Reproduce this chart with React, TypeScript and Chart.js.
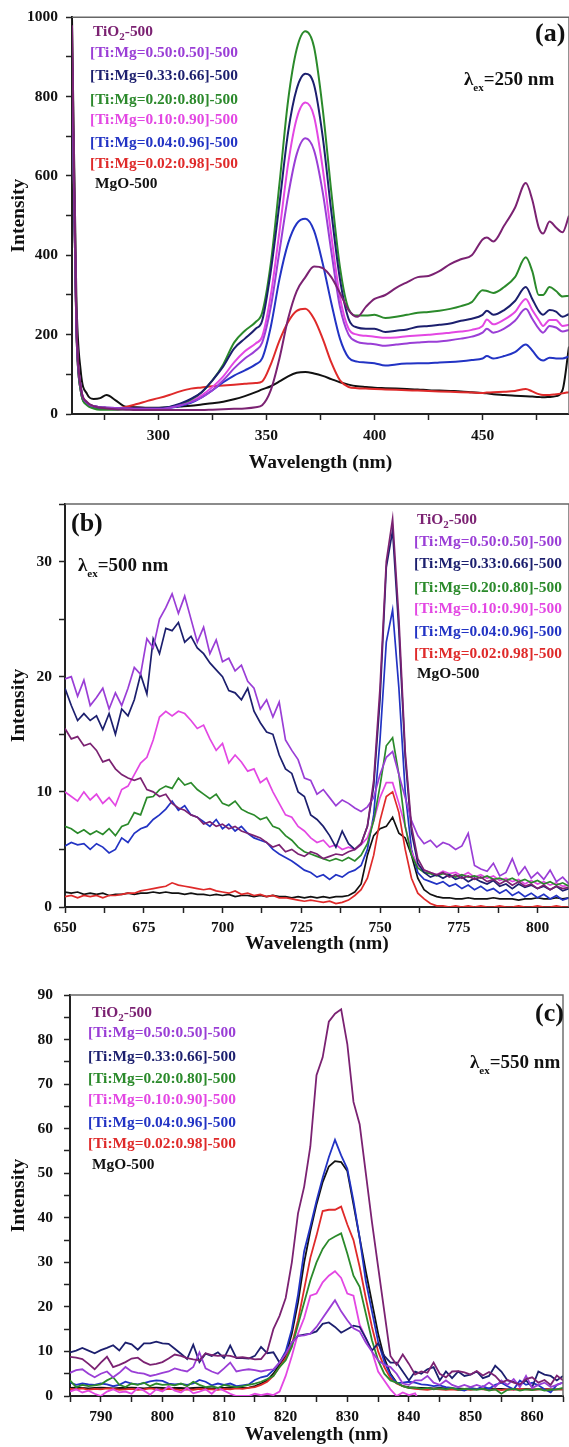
import React, { useEffect, useRef } from "react";
import { Chart, registerables } from "chart.js";

Chart.register(...registerables);

const FONT = "'Liberation Serif', 'Times New Roman', Times, serif";
Chart.defaults.font.family = FONT;

const SERIES_COLORS = ["#7b2272", "#9a3ed6", "#1c1f6e", "#2b8a2b", "#e347e3", "#2233c4", "#df2a2a", "#111111"];

// ---------- Panel (a): λex = 250 nm ----------
const wlA = [260,262,264,267,270,273,276,280,285,290,295,300,305,310,315,320,325,330,335,340,345,348,352,356,360,364,368,372,376,380,384,388,392,396,400,405,410,415,420,425,430,435,440,445,450,452,455,460,465,470,473,476,478,481,484,487,490];
const aTiO2 = [980,250,70,30,20,16,14,12,11,10,10,10,10,10,10,10,11,12,13,14,17,22,60,140,240,310,345,372,368,345,305,262,245,270,290,300,318,332,345,348,360,378,390,400,440,445,435,475,520,582,540,470,455,485,470,458,500];
const a050 = [900,230,70,28,20,17,16,15,14,13,13,13,16,22,30,42,60,85,115,140,160,180,270,410,550,655,695,665,560,410,270,200,182,178,176,172,175,178,180,182,183,186,190,195,205,215,205,215,235,265,240,215,205,222,218,208,212];
const a033 = [900,230,70,28,20,17,16,15,14,14,14,15,18,26,38,55,85,120,165,190,215,235,360,530,710,820,858,830,700,510,340,240,218,215,215,207,210,213,220,222,225,228,235,240,250,260,250,262,285,320,290,260,250,262,258,245,252];
const a020 = [880,220,60,22,14,11,11,11,12,12,13,14,17,24,36,55,85,125,180,210,232,255,380,580,790,920,965,925,770,560,370,265,248,248,250,242,245,250,255,257,260,265,272,282,312,310,305,320,345,395,360,300,300,320,310,296,298];
const a010 = [900,230,70,28,20,17,16,15,14,13,13,13,16,22,32,47,68,95,130,158,178,195,300,460,630,745,785,750,620,450,295,215,200,197,195,192,193,196,198,200,202,205,208,212,222,238,226,238,257,290,262,237,222,237,237,222,225];
const a004 = [880,220,60,24,16,14,13,13,13,12,12,12,15,20,28,42,60,80,97,110,125,140,220,340,430,480,492,462,380,280,190,142,132,130,128,122,125,127,128,128,130,131,133,136,140,146,140,146,156,175,160,140,135,142,140,140,145];
const a002 = [880,220,60,25,18,16,15,15,18,25,33,40,48,57,64,67,70,72,74,76,78,82,125,185,232,260,265,240,190,130,85,68,65,64,63,62,61,60,59,58,57,56,55,54,53,54,55,56,58,63,57,50,48,48,50,52,55];
const aMgO = [1000,300,110,50,38,40,48,35,18,17,16,16,17,19,21,24,27,31,37,45,55,62,70,82,95,104,106,102,96,88,80,74,70,68,66,65,64,63,62,60,59,58,57,55,53,52,50,48,46,45,44,43,42,43,45,60,170];

// ---------- Panel (b): λex = 500 nm ----------
const wlB = [650,652,654,656,658,660,662,664,666,668,670,672,674,676,678,680,682,684,686,688,690,692,694,696,698,700,702,704,706,708,710,712,714,716,718,720,722,724,726,728,730,732,734,736,738,740,742,744,746,748,750,752,754,756,758,760,762,764,766,768,770,772,774,776,778,780,782,784,786,788,790,792,794,796,798,800,802,804,806,808,810];
const bTiO2 = [15.5,14.6,14.8,14.0,14.2,13.6,12.6,12.8, 12.0,11.5,11.2,11.0,11.2,10.2,10.0,9.6, 9.8,9.0,8.6,8.4,8.0,7.8,7.2,7.4, 7.0,7.2,6.8,7.0,6.6,6.4,6.2,6.0, 5.6,5.2,5.4,4.8,5.0,4.6,4.4,4.8, 4.6,4.2,4.4,4.6,4.5,4.8,5.0,5.5, 7.0,11.0,19.0,30.0,33.7,25.0,13.5,7.0, 4.2,3.2,3.0,2.8,3.0,2.6,2.8,2.5, 2.7,2.4,2.6,2.2,2.4,2.0,2.3,1.9, 2.2,1.8,2.0,1.6,1.9,1.5,1.8,1.6, 1.7];
const b050 = [19.8,20.0,18.3,19.7,17.5,18.2,19.0,17.2, 18.6,17.5,19.0,20.8,20.2,23.3,22.5,25.0, 26.0,27.2,25.5,27.0,25.0,23.0,24.3,22.0, 23.2,21.3,21.6,20.5,21.0,19.6,19.0,17.2, 18.0,16.5,17.8,14.5,13.6,12.8,11.2,11.0, 9.8,10.2,9.5,8.8,9.3,9.0,8.6,8.3, 8.7,9.5,11.5,13.0,13.5,11.5,9.5,7.5, 6.2,5.5,5.8,5.2,5.6,5.4,5.0,5.3, 6.4,3.6,3.3,3.1,3.8,2.7,3.0,4.2, 2.8,3.5,2.5,3.0,2.4,3.2,2.2,2.6, 2.0];
const b033 = [19.0,17.5,16.2,16.8,16.2,16.6,15.4,16.8, 15.0,17.2,16.6,18.0,20.2,18.5,23.3,22.0, 24.2,24.0,24.7,23.0,23.5,22.5,22.0,21.2, 20.6,20.0,18.8,18.6,18.0,19.0,17.0,16.0, 15.2,15.0,13.2,12.0,11.6,10.0,9.6,8.0, 7.6,7.0,6.2,5.2,6.6,5.5,5.0,5.5, 7.0,10.5,18.0,29.5,32.7,24.0,13.0,6.5, 3.8,3.0,2.6,2.8,2.5,2.8,2.4,2.6, 2.2,2.5,2.2,2.0,2.3,1.8,2.0,1.6, 2.0,1.7,1.9,1.6,1.8,1.5,1.8,1.4, 1.6];
const b020 = [7.0,6.8,6.4,6.7,6.3,6.6,6.3,6.8, 6.2,7.0,7.2,8.2,8.0,9.5,9.6,10.2, 10.5,10.3,11.2,10.6,10.8,10.2,9.8,9.4, 9.8,9.0,8.8,9.2,8.5,8.2,8.0,7.6, 7.8,7.0,6.8,6.2,5.8,5.2,4.8,4.6, 4.4,4.2,4.0,4.2,4.0,4.3,4.0,4.5, 5.5,7.5,10.5,14.0,14.7,11.5,7.0,4.5, 3.4,3.0,2.9,2.7,2.9,2.8,2.6,2.8, 2.6,2.7,2.5,2.7,2.4,2.5,2.3,2.5, 2.2,2.4,2.1,2.3,2.0,2.2,1.9,2.1, 1.8];
const b010 = [10.0,9.6,9.2,10.0,9.3,9.8,9.0,9.5, 8.8,10.2,10.5,11.5,12.5,13.0,14.5,16.5, 17.0,16.6,17.0,16.8,16.2,15.5,15.8,14.6, 13.6,14.2,12.5,13.2,12.6,11.8,12.0,10.8, 11.2,10.0,9.0,8.0,7.8,7.0,6.6,6.0, 5.6,5.8,5.2,5.4,5.0,5.2,5.0,5.4, 6.0,7.5,9.5,10.8,10.8,9.0,7.0,4.8, 3.6,3.2,3.0,2.8,3.1,2.9,3.0,2.7, 3.0,2.6,2.8,2.5,2.7,2.3,2.5,2.2, 2.4,2.0,2.3,2.0,2.2,1.9,2.1,1.8, 1.9];
const b004 = [5.3,5.6,5.4,5.5,5.0,5.5,5.2,4.7, 5.0,6.0,5.6,6.4,6.8,7.0,7.6,8.0, 8.5,9.2,8.4,8.8,8.0,7.8,7.4,7.0, 7.6,6.8,7.2,6.6,7.0,6.4,6.0,5.8, 5.6,5.0,4.6,4.3,4.0,3.6,3.2,3.0, 2.6,2.8,2.4,2.8,2.6,3.0,3.2,3.6, 5.0,8.0,14.5,23.0,25.8,19.0,10.0,5.0, 3.0,2.4,2.2,2.0,2.2,1.8,2.0,1.6, 1.9,1.5,1.8,1.4,1.6,1.2,1.5,1.0, 1.3,0.9,1.2,0.8,1.1,0.7,1.0,0.6, 0.8];
const b002 = [0.9,1.0,0.8,1.0,0.9,1.0,0.8,1.0, 1.0,1.1,1.2,1.2,1.4,1.5,1.6,1.7, 1.8,2.1,1.9,1.8,1.7,1.6,1.5,1.6, 1.4,1.3,1.2,1.4,1.1,1.2,1.0,1.1, 0.9,1.0,0.8,0.8,0.7,0.6,0.5,0.6, 0.5,0.4,0.5,0.3,0.4,0.6,1.0,1.5, 2.5,4.5,7.5,9.6,10.0,8.2,5.0,2.5, 1.2,0.7,0.3,0.1,0.1,0.0,0.1,0.0, 0.1,0.0,0.1,0.0,0.0,0.1,0.0,0.0, 0.1,0.0,0.0,0.1,0.0,0.0,0.1,0.0, 0.0];
const bMgO = [1.3,1.2,1.3,1.1,1.2,1.1,1.2,1.0, 1.1,1.1,1.2,1.1,1.2,1.2,1.3,1.2, 1.3,1.2,1.2,1.1,1.2,1.1,1.1,1.0, 1.1,1.0,1.1,0.9,1.0,1.0,0.9,1.0, 0.9,1.0,0.9,0.9,0.8,0.9,0.8,0.9, 0.8,0.9,0.8,0.9,0.9,1.0,1.3,2.0, 4.5,6.2,6.8,7.0,7.8,6.4,6.0,4.5, 2.5,1.5,1.1,0.9,0.8,0.8,0.7,0.7, 0.8,0.7,0.7,0.7,0.8,0.7,0.7,0.7, 0.6,0.7,0.7,0.8,0.7,0.7,0.8,0.7, 0.8];

// ---------- Panel (c): λex = 550 nm ----------
const wlC = [785,786,787,788,789,790,791,792,793,794,795,796,797,798,799,800,801,802,803,804,805,806,807,808,809,810,811,812,813,814,815,816,817,818,819,820,821,822,823,824,825,826,827,828,829,830,831,832,833,834,835,836,837,838,839,840,841,842,843,844,845,846,847,848,849,850,851,852,853,854,855,856,857,858,859,860,861,862,863,864,865];
const cTiO2 = [8.8,8.6,8.3,7.2,6.0,7.5,8.8,6.5,7.0,7.6, 8.4,8.6,7.6,7.0,7.2,7.6,8.4,9.3,9.0,8.5, 8.2,8.0,9.6,9.2,9.0,9.1,9.0,8.6,8.7,8.5, 8.2,8.3,10.0,15.0,18.0,22.0,30.0,41.0,47.0,56.0, 72.0,76.0,84.0,85.8,86.8,79.0,66.0,61.0,50.0,39.0, 29.0,19.0,9.0,7.0,9.3,7.2,4.8,5.5,5.2,7.5, 5.0,4.2,5.5,5.6,5.3,4.8,5.6,4.6,5.4,4.5, 3.0,3.6,3.0,2.6,3.8,4.2,3.0,3.6,2.5,4.6, 3.5];
const c050 = [5.2,5.8,6.0,5.0,4.2,5.0,5.5,4.2,5.2,6.5, 5.5,5.2,5.0,4.5,4.8,5.2,5.5,6.2,5.8,5.5, 6.5,9.8,6.2,5.5,5.0,6.2,7.5,5.5,5.8,6.0, 5.8,5.5,5.8,6.0,7.5,9.5,12.0,13.5,13.6,14.0, 15.5,17.5,19.5,21.5,19.0,17.0,15.2,14.5,12.0,10.0, 8.0,7.0,6.5,5.0,2.8,2.5,3.5,3.5,4.5,3.0, 2.5,3.5,2.5,2.0,2.5,2.0,2.5,2.0,3.0,2.0, 3.5,2.5,3.8,2.0,4.5,1.8,2.5,3.0,2.0,2.5, 3.0];
const c033 = [9.8,10.2,10.8,10.2,9.6,10.3,10.8,11.4,10.2,12.0, 11.6,10.4,11.8,11.8,12.2,11.8,11.7,10.6,9.5,8.3, 11.5,7.6,9.5,9.0,9.8,8.5,11.3,8.5,8.5,8.4, 9.0,11.0,9.6,9.8,7.5,9.5,12.0,13.5,13.8,14.0, 14.5,16.2,16.5,15.5,14.2,15.0,15.8,15.5,13.0,10.2, 11.8,9.0,7.5,7.5,5.5,3.5,5.5,5.0,6.0,6.5, 3.5,5.5,4.0,5.5,4.5,4.8,5.5,4.0,4.5,6.8, 5.5,3.5,3.2,2.5,3.5,2.0,5.5,4.8,4.5,3.5, 4.5];
const c020 = [3.5,2.0,2.5,2.2,2.4,2.6,3.5,4.2,2.5,2.0, 2.8,2.5,3.0,2.2,2.8,2.5,2.6,2.4,2.8,2.2, 3.2,2.5,2.0,2.2,1.8,2.5,2.2,2.0,2.2,2.5, 2.8,3.2,3.8,4.5,6.5,8.0,11.0,16.0,21.0,26.0, 30.0,33.0,35.0,35.8,36.5,32.0,27.0,24.5,18.5,12.5, 8.0,5.0,3.5,3.0,2.2,1.8,1.9,1.6,1.8,1.5, 1.7,1.5,1.8,1.4,1.6,1.5,1.4,1.6,1.2,1.5, 0.5,1.4,1.6,1.2,1.5,1.3,1.6,1.2,1.4,1.5, 1.8];
const c010 = [1.0,1.5,0.8,1.2,0.5,0.0,1.0,1.5,0.8,1.0, 0.5,1.8,1.2,0.3,1.5,1.0,2.2,1.2,0.8,1.8, 0.6,1.0,1.5,0.5,1.8,1.2,0.5,0.0,0.0,0.0, 0.5,0.2,0.5,0.2,1.0,4.5,9.0,14.0,17.5,22.5, 23.0,25.5,27.0,28.0,26.5,23.0,22.5,16.0,13.0,10.0, 5.5,3.5,1.5,0.0,0.8,0.2,0.6,-2,-2,-2, -2,-2,-2,-2,-2,-2,-2,-2,-2,-2, -2,-2,-2,-2,-2,-2,-2,-2,-2,-2, -2];
const c004 = [3.0,2.5,2.8,2.6,2.5,2.8,2.6,2.2,2.5,3.2, 2.8,2.6,2.9,3.3,3.5,3.4,2.8,2.6,2.7,2.5, 2.8,3.6,3.2,2.4,2.8,2.5,2.8,2.2,2.4,2.6, 3.6,4.2,4.5,5.8,7.5,10.0,15.0,22.7,32.5,38.0, 43.8,49.0,53.6,57.5,54.0,51.0,43.8,35.5,25.8,19.0, 12.2,7.7,4.7,2.9,3.0,3.2,3.0,2.6,2.5,2.2, 2.4,2.0,1.8,1.5,1.2,1.8,1.5,2.2,1.6,2.5, 3.0,2.2,1.5,3.5,2.5,3.0,2.4,1.5,0.8,2.5, 3.0];
const c002 = [1.6,1.5,1.7,1.4,1.6,1.5,1.7,1.6,1.4,1.5, 1.6,1.4,1.5,1.7,1.5,1.4,1.6,1.5,1.3,1.5, 1.4,1.6,1.5,1.5,1.4,1.6,1.5,1.7,1.6,1.8, 2.0,2.5,3.2,4.5,6.5,8.5,11.5,17.0,24.0,31.0, 36.0,41.5,41.8,41.8,42.5,38.5,35.0,29.0,22.0,15.5, 10.0,6.5,4.0,2.8,2.2,1.8,1.6,1.5,1.4,1.6, 1.5,1.4,1.5,1.3,1.5,1.4,1.6,1.5,1.4,1.5, 1.3,1.5,1.4,1.6,1.5,1.4,1.5,1.6,1.4,1.5, 1.5];
const cMgO = [1.8,1.9,1.8,1.7,1.8,1.9,1.8,1.7,1.8,1.8, 1.9,1.8,1.7,1.8,1.9,1.8,1.7,1.8,1.8,1.7, 1.8,1.9,1.8,1.7,1.8,1.8,1.9,1.8,1.8,1.9, 2.2,2.8,3.5,5.0,7.0,9.0,14.0,21.0,30.0,37.0, 43.0,48.0,51.5,52.7,52.5,50.5,43.0,35.5,28.0,21.0, 14.0,8.5,5.0,3.0,2.2,2.0,1.9,1.8,1.8,1.7, 1.8,1.7,1.6,1.7,1.6,1.7,1.6,1.6,1.7,1.6, 1.6,1.5,1.6,1.5,1.6,1.5,1.5,1.6,1.5,1.5, 1.5];

// ---------- Ticks ----------
const A_X_TICKS = [275, 300, 325, 350, 375, 400, 425, 450, 475];
const A_X_LABELS = [300, 350, 400, 450];
const A_Y_TICKS = [0, 100, 200, 300, 400, 500, 600, 700, 800, 900, 1000];
const A_Y_LABELS = [0, 200, 400, 600, 800, 1000];
const B_X_TICKS = [650, 662.5, 675, 687.5, 700, 712.5, 725, 737.5, 750, 762.5, 775, 787.5, 800];
const B_X_LABELS = [650, 675, 700, 725, 750, 775, 800];
const B_Y_TICKS = [0, 5, 10, 15, 20, 25, 30, 35];
const B_Y_LABELS = [0, 10, 20, 30];
const C_X_TICKS = [785, 790, 795, 800, 805, 810, 815, 820, 825, 830, 835, 840, 845, 850, 855, 860, 865];
const C_X_LABELS = [790, 800, 810, 820, 830, 840, 850, 860];
const C_Y_TICKS = [0, 5, 10, 15, 20, 25, 30, 35, 40, 45, 50, 55, 60, 65, 70, 75, 80, 85, 90];
const C_Y_LABELS = [0, 10, 20, 30, 40, 50, 60, 70, 80, 90];

const framePlugin = {
  id: "frame",
  afterDatasetsDraw(chart: any) {
    const { ctx, chartArea } = chart;
    const { left, top, right, bottom } = chartArea;
    ctx.save();
    ctx.strokeStyle = "#666";
    ctx.lineWidth = 1.4;
    ctx.beginPath();
    ctx.moveTo(left, top);
    ctx.lineTo(right, top);
    ctx.lineTo(right, bottom);
    ctx.stroke();
    ctx.restore();
  },
};

type PanelSpec = {
  top: number;
  height: number;
  plotLeft: number;
  plotTop: number;
  plotBottom: number;
  xs: number[];
  ys: number[][];
  xMin: number; xMax: number; xTicks: number[]; xLabels: number[];
  yMin: number; yMax: number; yTicks: number[]; yLabels: number[];
  yTickPad: number; xTickPad: number; xTitlePad: number;
  lineWidth: number; smooth: boolean;
};

function Panel({ spec }: { spec: PanelSpec }) {
  const ref = useRef<HTMLCanvasElement | null>(null);
  useEffect(() => {
    const canvas = ref.current;
    if (!canvas) return;
    const tickFont = { family: FONT, size: 15.5, weight: "bold" as const };
    const titleFont = { family: FONT, size: 19.5, weight: "bold" as const };
    const chart = new Chart(canvas, {
      type: "line",
      data: {
        datasets: spec.ys.map((ys, i) => ({
          label: "s" + i,
          data: spec.xs.map((x, j) => ({ x, y: ys[j] })),
          borderColor: SERIES_COLORS[i],
          backgroundColor: SERIES_COLORS[i],
          borderWidth: spec.lineWidth,
          pointRadius: 0,
          fill: false,
          tension: 0,
          cubicInterpolationMode: spec.smooth ? "monotone" : "default",
        })),
      },
      options: {
        responsive: false,
        animation: false,
        devicePixelRatio: 1,
        layout: { padding: { top: spec.plotTop, left: 0, right: 0, bottom: 0 } },
        plugins: { legend: { display: false }, tooltip: { enabled: false } },
        scales: {
          x: {
            type: "linear",
            min: spec.xMin,
            max: spec.xMax,
            afterBuildTicks: (s: any) => { s.ticks = spec.xTicks.map((v) => ({ value: v })); },
            afterFit: (s: any) => { s.height = spec.height - spec.plotBottom; },
            ticks: {
              autoSkip: false, maxRotation: 0, padding: spec.xTickPad, color: "#111", font: tickFont,
              callback: (v: any) => (spec.xLabels.includes(Number(v)) ? String(v) : ""),
            },
            grid: { drawOnChartArea: false, drawTicks: true, tickLength: 6, tickWidth: 1.5, tickColor: "#222" },
            border: { display: true, color: "#222", width: 2 },
            title: { display: true, text: "Wavelength (nm)", color: "#111", font: titleFont, padding: { top: 0, bottom: spec.xTitlePad } },
          },
          y: {
            type: "linear",
            min: spec.yMin,
            max: spec.yMax,
            afterBuildTicks: (s: any) => { s.ticks = spec.yTicks.map((v) => ({ value: v })); },
            afterFit: (s: any) => { s.width = spec.plotLeft; },
            ticks: {
              autoSkip: false, padding: spec.yTickPad, color: "#111", font: tickFont,
              callback: (v: any) => (spec.yLabels.includes(Number(v)) ? String(v) : ""),
            },
            grid: { drawOnChartArea: false, drawTicks: true, tickLength: 6, tickWidth: 1.5, tickColor: "#222" },
            border: { display: true, color: "#222", width: 2 },
            title: { display: true, text: "Intensity", color: "#111", font: titleFont, padding: { top: 7, bottom: 0 } },
          },
        },
      },
      plugins: [framePlugin],
    } as any);
    return () => chart.destroy();
  }, [spec]);
  return (
    <canvas
      ref={ref}
      width={569}
      height={spec.height}
      style={{ position: "absolute", left: 0, top: spec.top, width: 569, height: spec.height }}
    />
  );
}

const LEGEND_TEXTS = [
  "TiO2-500",
  "[Ti:Mg=0.50:0.50]-500",
  "[Ti:Mg=0.33:0.66]-500",
  "[Ti:Mg=0.20:0.80]-500",
  "[Ti:Mg=0.10:0.90]-500",
  "[Ti:Mg=0.04:0.96]-500",
  "[Ti:Mg=0.02:0.98]-500",
  "MgO-500",
];

function LegendBlock({ left, rows, tiLeft, mgLeft }: { left: number; rows: number[]; tiLeft: number; mgLeft: number }) {
  return (
    <>
      {LEGEND_TEXTS.map((t, i) => {
        const x = i === 0 ? tiLeft : i === 7 ? mgLeft : left;
        const content =
          i === 0 ? (
            <>
              TiO<span style={{ fontSize: 11, position: "relative", top: 4 }}>2</span>-500
            </>
          ) : (
            t
          );
        return (
          <div
            key={i}
            style={{
              position: "absolute",
              left: x,
              top: rows[i] - 9,
              font: `bold 15.4px/18px ${FONT}`,
              color: SERIES_COLORS[i],
              whiteSpace: "nowrap",
            }}
          >
            {content}
          </div>
        );
      })}
    </>
  );
}

function Lambda({ left, cy, value }: { left: number; cy: number; value: string }) {
  return (
    <div style={{ position: "absolute", left, top: cy - 11, font: `bold 19px/22px ${FONT}`, color: "#111", whiteSpace: "nowrap" }}>
      λ<span style={{ fontSize: 11, position: "relative", top: 6 }}>ex</span>={value} nm
    </div>
  );
}

function PanelTag({ left, cy, text }: { left: number; cy: number; text: string }) {
  return (
    <div style={{ position: "absolute", left, top: cy - 15, font: `bold 26px/30px ${FONT}`, color: "#111", whiteSpace: "nowrap" }}>
      {text}
    </div>
  );
}

const SPEC_A: PanelSpec = {
  top: 0, height: 478, plotLeft: 72, plotTop: 17, plotBottom: 414,
  xs: wlA, ys: [aTiO2, a050, a033, a020, a010, a004, a002, aMgO],
  xMin: 260, xMax: 490, xTicks: A_X_TICKS, xLabels: A_X_LABELS,
  yMin: 0, yMax: 1000, yTicks: A_Y_TICKS, yLabels: A_Y_LABELS,
  yTickPad: 8, xTickPad: 7, xTitlePad: 3, lineWidth: 2, smooth: true,
};
const SPEC_B: PanelSpec = {
  top: 478, height: 478, plotLeft: 65, plotTop: 26, plotBottom: 429,
  xs: wlB, ys: [bTiO2, b050, b033, b020, b010, b004, b002, bMgO],
  xMin: 650, xMax: 810, xTicks: B_X_TICKS, xLabels: B_X_LABELS,
  yMin: 0, yMax: 35, yTicks: B_Y_TICKS, yLabels: B_Y_LABELS,
  yTickPad: 7, xTickPad: 6, xTitlePad: 0, lineWidth: 1.7, smooth: false,
};
const SPEC_C: PanelSpec = {
  top: 958, height: 489, plotLeft: 70, plotTop: 37, plotBottom: 438,
  xs: wlC, ys: [cTiO2, c050, c033, c020, c010, c004, c002, cMgO],
  xMin: 785, xMax: 865, xTicks: C_X_TICKS, xLabels: C_X_LABELS,
  yMin: 0, yMax: 90, yTicks: C_Y_TICKS, yLabels: C_Y_LABELS,
  yTickPad: 11, xTickPad: 6, xTitlePad: 0, lineWidth: 1.8, smooth: false,
};

export default function App() {
  return (
    <div style={{ position: "absolute", left: 0, top: 0, width: 569, height: 1447, background: "#fff", overflow: "hidden" }}>
      <Panel spec={SPEC_A} />
      <Panel spec={SPEC_B} />
      <Panel spec={SPEC_C} />

      <LegendBlock left={90} tiLeft={93} mgLeft={95} rows={[31, 52, 75, 99, 119, 142, 163, 183]} />
      <PanelTag left={535} cy={33} text="(a)" />
      <Lambda left={464} cy={79} value="250" />

      <LegendBlock left={414} tiLeft={417} mgLeft={417} rows={[519, 541, 563, 587, 608, 631, 653, 673]} />
      <PanelTag left={71} cy={523} text="(b)" />
      <Lambda left={78} cy={565} value="500" />

      <LegendBlock left={88} tiLeft={92} mgLeft={92} rows={[1012, 1032, 1056, 1078, 1099, 1122, 1143, 1164]} />
      <PanelTag left={535} cy={1013} text="(c)" />
      <Lambda left={470} cy={1062} value="550" />
    </div>
  );
}
